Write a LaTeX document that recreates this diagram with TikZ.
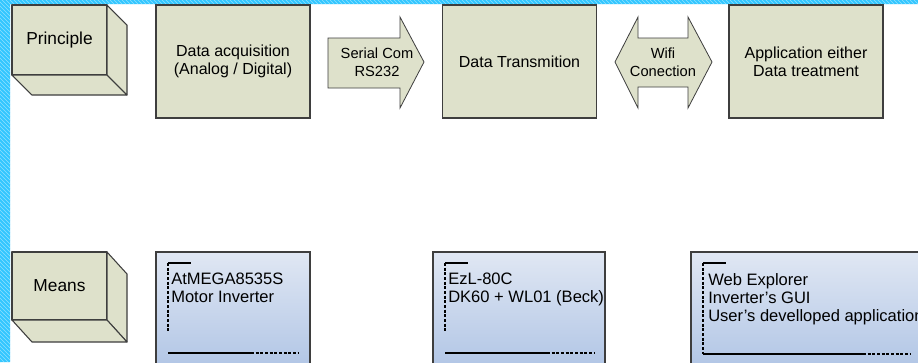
\documentclass[tikz,border=0pt]{standalone}
\usepackage{fontspec}
\setmainfont{Liberation Sans}
\usepackage{tikz}
\usetikzlibrary{patterns}
\definecolor{boxfill}{RGB}{222,225,203}
\definecolor{boxline}{RGB}{62,62,62}
\definecolor{bluetop}{RGB}{224,231,243}
\definecolor{bluebot}{RGB}{172,194,228}
\definecolor{stripe}{RGB}{50,198,255}

\begin{document}
\begin{tikzpicture}[x=0.75pt,y=-0.75pt,
  stepblock/.style={draw=boxline,fill=boxfill,line width=0.8pt,minimum width=115.5pt,minimum height=84.75pt,align=center,font=\fontsize{12}{13.5}\selectfont},
  face/.style={draw=boxline,fill=boxfill,line width=0.8pt,line join=round},
  arrowshape/.style={draw=boxline,fill=boxfill,line width=0.6pt,line join=miter},
  arrowtext/.style={align=center,inner sep=0pt,font=\fontsize{11}{13.5}\selectfont},
  cubetext/.style={inner sep=0pt,font=\fontsize{13}{15}\selectfont},
  meansbox/.style={draw=boxline,line width=0.8pt,top color=bluetop,bottom color=bluebot},
  meanstext/.style={anchor=north west,align=left,inner sep=0pt,font=\fontsize{12.4}{13.6}\selectfont},
  mark line/.style={line width=0.9pt,black},
  mark dash/.style={mark line,dash pattern=on 2.2pt off 1.3pt}]
\useasboundingbox (0,0) rectangle (918,362);
\clip (0,0) rectangle (918,362);
\fill[white] (0,0) rectangle (918,362);
\fill[stripe] (0,0) rectangle (918,4) (0,0) rectangle (10,362);
\fill[pattern=north west lines,pattern color=white!45!stripe] (0,0) rectangle (918,4) (0,0) rectangle (10,362);

\draw[face] (12,5) rectangle (107,75);
\draw[face] (107,5) -- (127,25) -- (127,95) -- (107,75) -- cycle;
\draw[face] (12,75) -- (107,75) -- (127,95) -- (32,95) -- cycle;
\node[cubetext] (principle) at (59.5,40) {Principle};

\draw[face] (12,252) rectangle (107,320);
\draw[face] (107,252) -- (127,274) -- (127,342) -- (107,320) -- cycle;
\draw[face] (12,320) -- (107,320) -- (127,342) -- (32,342) -- cycle;
\node[cubetext] (means) at (59.5,286) {Means};

\node[stepblock] (acq) at (233,61.5) {Data acquisition\\(Analog / Digital)};
\node[stepblock] (trans) at (519.5,61.5) {Data Transmition};
\node[stepblock] (appli) at (806,61.5) {Application either\\Data treatment};

\draw[arrowshape] (328,38) -- (400,38) -- (400,17) -- (424,62) -- (400,108) -- (400,88) -- (328,88) -- cycle;
\node[arrowtext] (serial) at (377,62) {Serial Com\\RS232};

\draw[arrowshape] (615,62) -- (638,17) -- (638,38) -- (688,38) -- (688,17) -- (712,62) -- (688,108) -- (688,87) -- (638,87) -- (638,108) -- cycle;
\node[arrowtext] (wifi) at (663,62) {Wifi\\Conection};

\shade[meansbox] (156,252) rectangle (310,380);
\draw[mark dash] (168,263) -- (168,332);
\draw[mark line] (168,263) -- (191,263);
\draw[mark line] (168,353) -- (251,353);
\draw[mark dash] (251,353) -- (298,353);
\node[meanstext] (atmega) at (171,273) {AtMEGA8535S\\Motor Inverter};

\shade[meansbox] (433,252) rectangle (605,380);
\draw[mark dash] (445,263) -- (445,332);
\draw[mark line] (445,263) -- (468,263);
\draw[mark line] (445,353) -- (547,353);
\draw[mark dash] (547,353) -- (595,353);
\node[meanstext] (ezl) at (448,273) {EzL-80C\\DK60 + WL01 (Beck)};

\shade[meansbox] (691,252) rectangle (930,380);
\draw[mark dash] (703,263) -- (703,354);
\draw[mark line] (703,263) -- (726,263);
\draw[mark line] (703,354) -- (863,354);
\draw[mark dash] (863,354) -- (910,354);
\node[meanstext] (webexp) at (708,273) {Web Explorer\\Inverter's GUI\\User's develloped application};
\end{tikzpicture}
\end{document}
